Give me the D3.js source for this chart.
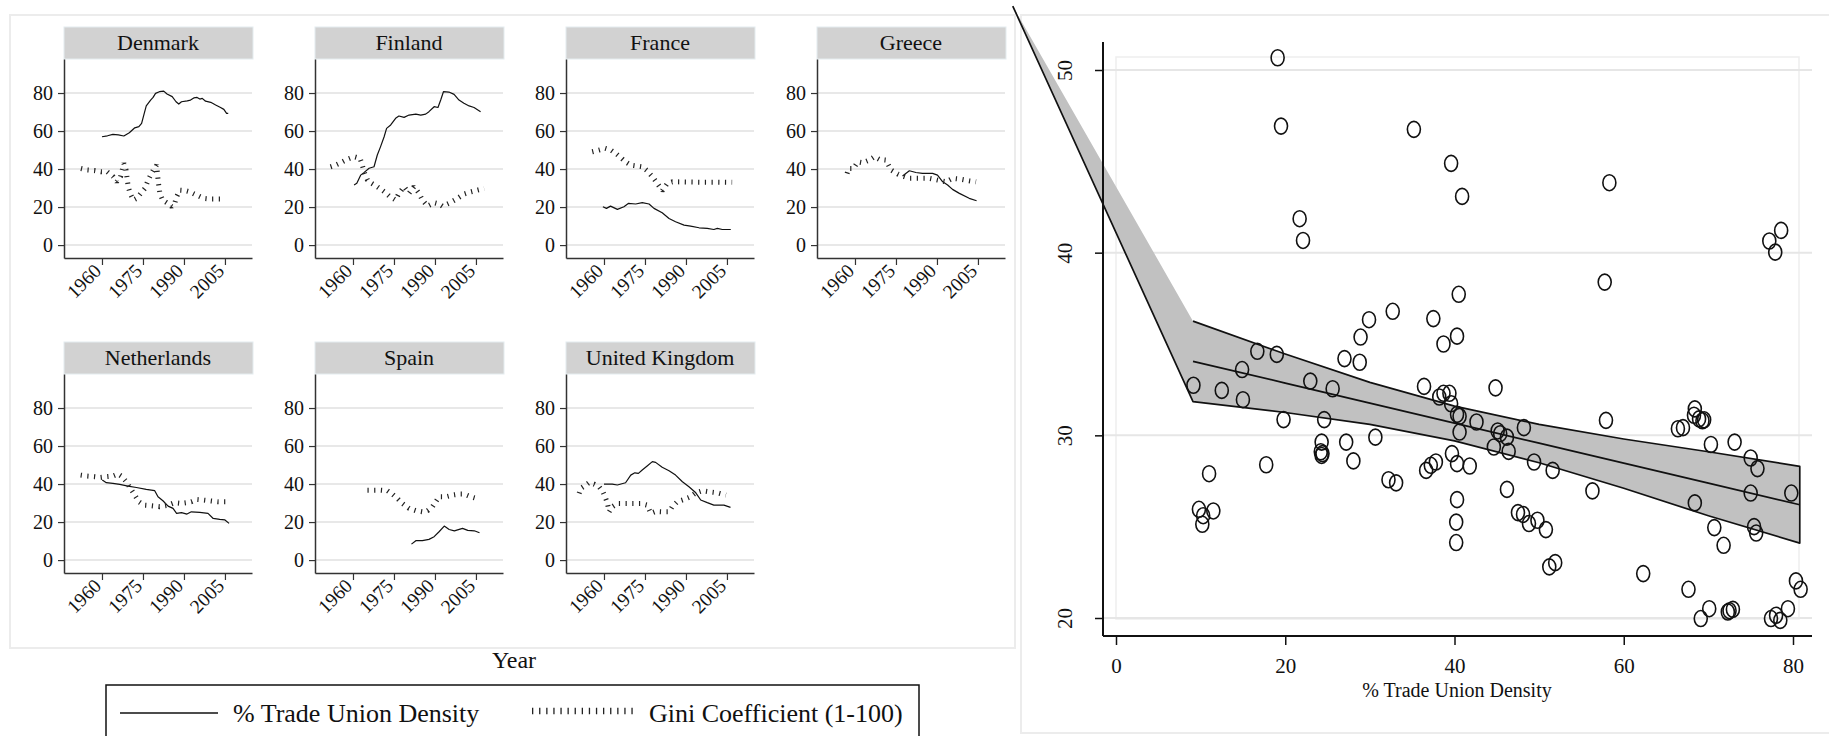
<!DOCTYPE html>
<html>
<head>
<meta charset="utf-8">
<script src="https://cdn.jsdelivr.net/npm/d3@7"></script>
<style>
  body { margin: 0; background: #fff; }
  text { font-family: "Liberation Serif", "Times New Roman", serif; fill: #111; font-weight: normal; }
</style>
</head>
<body>
<script>
const width = 1829;
const height = 736;

// ---- facet data: [year, value] ----
const countries = ["Denmark", "Finland", "France", "Greece", "Netherlands", "Spain", "United Kingdom"];
const yearTicks = [1960, 1975, 1990, 2005];
const facetTicks = [0, 20, 40, 60, 80];

const denmarkDensity = [[1960,57.0],[1962,57.5],[1964,58.2],[1966,58.0],[1968,57.4],[1970,59.1],[1972,61.7],[1973.5,62.3],[1974.5,64.0],[1975.3,68.4],[1976.2,73.2],[1977.8,76.3],[1978.7,77.7],[1979.6,79.8],[1981,80.7],[1982.6,81.0],[1983.8,79.5],[1985.7,78.1],[1987.1,75.4],[1988.1,74.2],[1989.1,75.4],[1991.2,75.9],[1992.4,76.3],[1993.6,77.4],[1994.8,77.7],[1995.8,76.8],[1996.7,77.2],[1997.9,75.7],[1999.8,75.1],[2001.6,73.7],[2003.4,72.4],[2004.6,71.4],[2005.6,69.3],[2006.2,69.3]];
const denmarkGini = [[1952.3,40.3],[1954.6,39.5],[1957.2,39.2],[1959.6,38.6],[1961.9,38.6],[1964.1,36.0],[1965.4,33.3],[1966.8,36.0],[1968.0,43.0],[1968.8,39.5],[1969.6,30.7],[1970.3,27.2],[1971.5,23.7],[1972.7,24.6],[1974.2,27.2],[1975.7,29.8],[1976.9,34.2],[1977.8,36.8],[1978.8,39.5],[1980.0,42.1],[1980.6,33.3],[1981.2,27.2],[1982.2,23.7],[1983.7,22.3],[1985.5,20.2],[1986.7,22.3],[1987.3,25.4],[1988.5,28.9],[1990.4,28.7],[1992.2,28.0],[1994.6,26.3],[1997.1,24.6],[1999.5,24.2],[2002.0,24.2],[2005.0,24.2]];

const finlandDensity = [[1960.4,31.6],[1961.4,32.5],[1962.8,36.8],[1964.0,38.1],[1965.9,40.4],[1967.7,41.2],[1968.9,47.4],[1970.1,51.8],[1971.4,57.0],[1972.3,61.4],[1973.8,63.2],[1975.6,66.7],[1976.8,67.9],[1978.7,67.2],[1980.5,68.4],[1983.0,68.9],[1984.8,68.4],[1986.6,68.9],[1987.8,70.2],[1989.7,72.8],[1991.1,72.4],[1992.1,76.3],[1993.1,80.7],[1995.1,80.5],[1997.0,79.3],[1998.8,76.3],[2000.6,74.6],[2002.5,73.2],[2004.3,72.4],[2006.7,70.2]];
const finlandGini = [[1951.8,41.2],[1953.7,42.1],[1955.5,43.3],[1957.9,45.1],[1960.4,46.5],[1962.6,45.6],[1963.4,42.1],[1964.3,37.7],[1965.3,34.2],[1966.5,32.8],[1968.9,30.7],[1971.4,28.1],[1973.2,25.8],[1975.6,23.7],[1976.8,27.2],[1978.7,30.7],[1980.5,27.2],[1982.3,30.7],[1984.2,27.2],[1985.4,23.7],[1987.3,20.5],[1989.7,22.3],[1991.5,21.6],[1992.7,20.5],[1995.1,22.0],[1997.6,24.0],[2000.6,26.8],[2003.1,28.0],[2005.5,28.9],[2008.0,29.8]];

const franceDensity = [[1959.6,20.2],[1960.9,19.3],[1962.4,20.5],[1964.9,18.8],[1967.3,20.2],[1968.9,21.9],[1971.6,21.6],[1974.0,22.3],[1976.5,21.6],[1978.3,19.3],[1981.3,17.0],[1983.8,14.0],[1986.2,12.3],[1989.3,10.5],[1991.7,10.0],[1994.8,9.1],[1997.8,8.8],[2000.2,8.2],[2001.5,8.8],[2003.3,8.2],[2006.4,8.2]];
const franceGini = [[1955.7,49.1],[1958.2,50.0],[1960.4,50.9],[1962.5,50.0],[1964.3,48.2],[1966.1,46.1],[1967.9,43.8],[1969.8,42.1],[1972.2,41.6],[1974.0,41.2],[1975.8,39.1],[1977.7,36.0],[1979.5,32.5],[1981.3,28.6],[1983.2,32.5],[1985.0,33.3],[1990,33.2],[1995,33.1],[2000,33.1],[2006.9,33.0]];

const greeceDensity = [[1977.4,36.3],[1979.9,39.1],[1982.3,38.2],[1984.7,37.7],[1988.4,37.7],[1990.2,36.8],[1992.1,33.3],[1993.9,31.6],[1995.7,29.3],[1998.2,27.2],[2001.8,24.6],[2004.5,23.3]];
const greeceGini = [[1957.1,37.7],[1957.7,40.3],[1959.4,40.3],[1961.0,43.8],[1962.8,43.3],[1965.2,44.7],[1967.1,46.5],[1968.9,45.1],[1971.3,44.7],[1973.2,39.5],[1975.6,37.4],[1977.4,36.3],[1979.9,35.1],[1983.5,35.1],[1987.2,35.1],[1990.2,34.2],[1993.3,33.3],[1995.7,35.1],[1998.8,34.6],[2001.8,33.8],[2004.3,33.3]];

const netherlandsDensity = [[1960.1,42.1],[1961.6,40.7],[1964.0,40.4],[1966.5,39.8],[1969.5,38.9],[1972.6,38.2],[1976.2,37.2],[1979.3,36.5],[1980.5,33.3],[1982.3,31.2],[1984.2,28.4],[1986.0,27.2],[1987.3,24.6],[1989.1,25.0],[1991.1,24.2],[1992.7,25.4],[1995.8,25.1],[1998.8,24.6],[2000.7,21.9],[2003.1,21.4],[2005.0,21.1],[2006.5,19.3]];
const netherlandsGini = [[1952.2,44.7],[1954.6,44.2],[1957.2,43.9],[1959.5,43.5],[1961.8,43.9],[1964.0,44.2],[1965.9,45.3],[1967.1,44.2],[1968.9,41.2],[1970.4,37.7],[1972.0,34.2],[1973.5,30.7],[1975.3,28.9],[1978.1,28.6],[1981.1,28.1],[1984.2,28.9],[1986.6,30.2],[1989.0,29.8],[1990.9,30.2],[1992.7,30.7],[1994.6,31.9],[1997.0,31.6],[1999.4,31.2],[2002.5,30.7],[2005.5,30.7]];

const spainDensity = [[1981.4,8.4],[1983.0,10.2],[1985.4,10.2],[1987.8,10.9],[1989.7,12.3],[1991.5,14.9],[1993.4,17.9],[1995.2,16.1],[1997.1,15.4],[2000.1,16.7],[2002.0,15.6],[2004.4,15.4],[2006.3,14.4]];
const spainGini = [[1965.3,36.8],[1967.7,36.8],[1970.1,36.8],[1972.6,36.5],[1974.4,34.7],[1976.2,32.5],[1978.1,29.8],[1980.5,27.2],[1983.0,26.0],[1985.4,25.4],[1987.3,26.0],[1989.1,28.1],[1990.3,30.7],[1991.5,33.3],[1994.0,33.3],[1996.4,34.2],[1998.8,34.7],[2000.7,34.7],[2003.1,33.3],[2005.0,32.5]];

const ukDensity = [[1960.0,40.0],[1963.0,40.0],[1964.9,39.5],[1967.9,40.7],[1969.8,44.7],[1971.3,45.9],[1972.6,45.6],[1974.0,47.4],[1975.8,49.5],[1977.7,51.8],[1978.9,51.4],[1981.3,48.8],[1983.8,47.0],[1986.2,44.7],[1988.7,41.2],[1991.1,38.6],[1993.6,35.4],[1995.4,31.6],[1997.8,30.2],[2000.2,28.9],[2003.9,28.9],[2006.3,27.7]];
const ukGini = [[1950.9,35.1],[1951.5,37.7],[1953.4,39.5],[1954.5,40.7],[1956.3,40.0],[1958.2,38.6],[1959.6,35.9],[1960.4,33.3],[1961.2,30.2],[1961.9,25.4],[1963.1,28.1],[1964.9,29.8],[1967.3,29.8],[1970.4,29.8],[1973.4,29.8],[1975.8,28.9],[1977.1,24.6],[1978.9,25.6],[1981.3,25.4],[1983.8,25.4],[1985.0,28.1],[1986.8,30.7],[1989.3,31.9],[1991.7,33.3],[1993.6,35.4],[1996.0,36.5],[1998.5,35.9],[2001.5,35.4],[2004.6,34.2]];

const densitySeries = [denmarkDensity, finlandDensity, franceDensity, greeceDensity, netherlandsDensity, spainDensity, ukDensity];
const giniSeries = [denmarkGini, finlandGini, franceGini, greeceGini, netherlandsGini, spainGini, ukGini];

// ---- scatter data: % trade union density vs Gini ----
const unionDensity = [19.1,19.5,35.2,21.7,22.1,32.7,29.9,28.9,16.7,19.0,27.0,28.8,14.9,39.6,40.9,58.3,78.6,77.2,77.9,57.75,40.5,37.5,40.3,38.7,22.96,25.6,9.15,12.5,15.0,19.8,24.6,24.3,24.2,24.4,24.3,27.2,30.65,28.05,17.75,11.0,9.8,10.3,11.5,10.2,32.2,33.1,36.4,38.2,38.7,39.4,39.6,40.3,40.6,42.6,40.6,44.85,45.4,45.1,46.2,44.65,46.4,48.2,49.4,51.6,39.7,40.3,41.8,36.65,37.2,37.8,46.2,40.3,40.2,40.2,47.5,48.1,48.8,49.8,50.8,51.2,51.9,56.3,57.9,68.4,68.3,68.9,69.3,69.5,66.4,67.0,70.3,73.1,75.0,75.8,75.0,79.8,68.4,70.7,71.8,75.4,75.65,62.3,67.65,70.1,69.1,72.5,72.9,72.3,80.35,80.9,79.4,77.4,78.0,78.5];
const giniCoef = [50.67,46.93,46.75,41.86,40.67,36.79,36.33,35.38,34.6,34.43,34.2,34.0,33.6,44.89,43.08,43.83,41.22,40.64,40.03,38.39,37.72,36.39,35.43,35.0,32.97,32.55,32.74,32.46,31.95,30.86,30.86,29.63,29.1,29.0,28.9,29.63,29.9,28.6,28.39,27.9,25.95,25.6,25.86,25.13,27.57,27.4,32.68,32.1,32.3,32.3,31.73,31.15,31.04,30.73,30.18,32.6,30.09,30.24,29.9,29.36,29.12,30.42,28.54,28.08,29.0,28.45,28.32,28.08,28.36,28.54,27.04,26.48,25.25,24.13,25.77,25.67,25.17,25.35,24.84,22.8,23.03,26.96,30.82,31.45,31.1,30.9,30.8,30.85,30.36,30.42,29.5,29.63,28.76,28.18,26.84,26.84,26.3,24.95,23.98,25.0,24.65,22.43,21.57,20.51,19.97,20.4,20.47,20.33,22.03,21.57,20.51,19.97,20.15,19.87];

// linear fit with confidence band
const fitX = [9.1, 20, 30, 40, 50, 60, 70, 80.8];
const fitY = [34.05, 32.86, 31.76, 30.67, 29.57, 28.48, 27.38, 26.2];
const ciUpper = [36.25, 34.45, 32.9, 31.6, 30.6, 29.8, 29.1, 28.3];
const ciLower = [31.85, 31.25, 30.6, 29.7, 28.5, 27.1, 25.6, 24.1];
const ciStray = [-12.2, 53.5];   // odd extra vertex of the shaded polygon

const scatterXTicks = [0, 20, 40, 60, 80];
const scatterYTicks = [20, 30, 40, 50];

const svg = d3.select("body").append("svg")
    .attr("width", width)
    .attr("height", height);

// ---------- left panel : small multiples ----------
svg.append("rect")
    .attr("x", 10).attr("y", 15)
    .attr("width", 1005).attr("height", 633)
    .attr("fill", "none")
    .attr("stroke", "#ececec")
    .attr("stroke-width", 2);

const facetW = 188, facetH = 199;
const fx = d3.scaleLinear().domain([1946.1, 2014.9]).range([0, facetW]);
const fy = d3.scaleLinear().domain([-6.8, 97.9]).range([facetH, 0]);

const line = d3.line()
    .x((d) => fx(d[0]))
    .y((d) => fy(d[1]));

countries.forEach((name, i) => {
    const col = i % 4;
    const row = Math.floor(i / 4);
    const g = svg.append("g")
        .attr("transform", `translate(${64 + col * 251},${59 + row * 315})`);

    g.append("rect")
        .attr("x", 0).attr("y", -32)
        .attr("width", facetW + 1).attr("height", 32)
        .attr("fill", "#d2d2d2")
        .attr("stroke", "#e4ecef");
    g.append("text")
        .attr("x", facetW / 2).attr("y", -9)
        .attr("text-anchor", "middle")
        .attr("font-size", 22)
        .attr("font-weight", 400)
        .attr("fill", "#1a1a1a")
        .text(name);

    g.selectAll(".grid")
        .data(facetTicks)
        .enter().append("line")
        .attr("class", "grid")
        .attr("x1", 0).attr("x2", facetW)
        .attr("y1", (d) => fy(d)).attr("y2", (d) => fy(d))
        .attr("stroke", "#e8e8e8")
        .attr("stroke-width", 2);

    const ya = g.append("g")
        .call(d3.axisLeft(fy).tickValues(facetTicks).tickSize(6).tickSizeOuter(0).tickPadding(5));
    ya.selectAll("text").attr("font-size", 20).attr("font-family", "Liberation Serif").attr("fill", "#111");

    const xa = g.append("g")
        .attr("transform", `translate(0,${facetH})`)
        .call(d3.axisBottom(fx).tickValues(yearTicks).tickFormat(d3.format("d")).tickSize(7).tickSizeOuter(0));
    xa.selectAll("text")
        .attr("font-size", 19.5)
        .attr("font-family", "Liberation Serif")
        .attr("fill", "#111")
        .attr("y", 0).attr("dy", 0)
        .attr("text-anchor", "end")
        .attr("transform", "translate(0,14) rotate(-45)");

    [ya, xa].forEach((a) => {
        a.select(".domain").attr("stroke", "#333").attr("stroke-width", 1.5);
        a.selectAll(".tick line").attr("stroke", "#333").attr("stroke-width", 1.2);
    });

    g.append("path")
        .attr("d", line(densitySeries[i]))
        .attr("fill", "none")
        .attr("stroke", "#111")
        .attr("stroke-width", 1.2)
        .attr("stroke-linejoin", "round");

    g.append("path")
        .attr("d", line(giniSeries[i]))
        .attr("fill", "none")
        .attr("stroke", "#222")
        .attr("stroke-width", 5)
        .attr("stroke-linejoin", "bevel")
        .attr("stroke-dasharray", "1.2 5.5");
});

svg.append("text")
    .attr("x", 514).attr("y", 668)
    .attr("text-anchor", "middle")
    .attr("font-size", 24)
    .text("Year");

// legend
svg.append("rect")
    .attr("x", 106).attr("y", 685)
    .attr("width", 813).attr("height", 80)
    .attr("fill", "#fff")
    .attr("stroke", "#111")
    .attr("stroke-width", 1.5);
svg.append("line")
    .attr("x1", 120).attr("x2", 218).attr("y1", 713).attr("y2", 713)
    .attr("stroke", "#111").attr("stroke-width", 1.5);
svg.append("text")
    .attr("x", 233).attr("y", 722)
    .attr("font-size", 26)
    .text("% Trade Union Density");
svg.append("line")
    .attr("x1", 532).attr("x2", 634).attr("y1", 711).attr("y2", 711)
    .attr("stroke", "#222").attr("stroke-width", 6.5)
    .attr("stroke-dasharray", "1.3 5.8");
svg.append("text")
    .attr("x", 649).attr("y", 722)
    .attr("font-size", 26)
    .text("Gini Coefficient (1-100)");

// ---------- right panel : scatter with fit ----------
svg.append("rect")
    .attr("x", 1021).attr("y", 15)
    .attr("width", 812).attr("height", 718)
    .attr("fill", "none")
    .attr("stroke", "#ececec")
    .attr("stroke-width", 2);

const sx = d3.scaleLinear().domain([0, 80]).range([1116, 1793]);
const sy = d3.scaleLinear().domain([20, 50]).range([618, 70]);
const axisX0 = 1103, axisX1 = 1812, axisY0 = 42, axisY1 = 636;

svg.append("rect")
    .attr("x", 1116).attr("y", 57)
    .attr("width", 683).attr("height", 562)
    .attr("fill", "none")
    .attr("stroke", "#eeeeee")
    .attr("stroke-width", 1.5);

svg.selectAll(".sgrid")
    .data(scatterYTicks)
    .enter().append("line")
    .attr("class", "sgrid")
    .attr("x1", axisX0).attr("x2", axisX1)
    .attr("y1", (d) => sy(d)).attr("y2", (d) => sy(d))
    .attr("stroke", "#e6e6e6")
    .attr("stroke-width", 2);

// shaded confidence band, including its stray vertex
const bandPts = fitX.map((x, i) => [x, ciUpper[i]])
    .concat(fitX.map((x, i) => [x, ciLower[i]]).reverse())
    .concat([ciStray]);
const sline = d3.line().x((d) => sx(d[0])).y((d) => sy(d[1]));

svg.append("path")
    .attr("d", sline(bandPts) + "Z")
    .attr("fill", "#c1c1c1")
    .attr("stroke", "none");
svg.append("path")
    .attr("d", sline(bandPts))
    .attr("fill", "none")
    .attr("stroke", "#111")
    .attr("stroke-width", 1.7)
    .attr("stroke-linejoin", "round");
svg.append("path")
    .attr("d", sline(fitX.map((x, i) => [x, fitY[i]])))
    .attr("fill", "none")
    .attr("stroke", "#111")
    .attr("stroke-width", 1.7);

svg.selectAll(".pt")
    .data(unionDensity.map((x, i) => [x, giniCoef[i]]))
    .enter().append("ellipse")
    .attr("class", "pt")
    .attr("cx", (d) => sx(d[0]))
    .attr("cy", (d) => sy(d[1]))
    .attr("rx", 6.5).attr("ry", 8)
    .attr("fill", "none")
    .attr("stroke", "#111")
    .attr("stroke-width", 1.6);

// axes
const sya = svg.append("g")
    .attr("transform", `translate(${axisX0},0)`)
    .call(d3.axisLeft(sy).tickValues(scatterYTicks).tickSize(8).tickSizeOuter(0));
sya.select(".domain").remove();
sya.selectAll("text")
    .attr("x", 0).attr("dy", 0)
    .attr("font-size", 21)
    .attr("font-family", "Liberation Serif")
    .attr("fill", "#222")
    .attr("text-anchor", "middle")
    .attr("transform", "translate(-31,0) rotate(-90)");

const sxa = svg.append("g")
    .attr("transform", `translate(0,${axisY1})`)
    .call(d3.axisBottom(sx).tickValues(scatterXTicks).tickSize(9).tickPadding(13).tickSizeOuter(0));
sxa.select(".domain").remove();
sxa.selectAll("text")
    .attr("font-size", 21)
    .attr("font-family", "Liberation Serif")
    .attr("fill", "#222");

[sya, sxa].forEach((a) => a.selectAll(".tick line").attr("stroke", "#111").attr("stroke-width", 1.5));

svg.append("line")
    .attr("x1", axisX0).attr("x2", axisX0).attr("y1", axisY0).attr("y2", axisY1)
    .attr("stroke", "#111").attr("stroke-width", 2);
svg.append("line")
    .attr("x1", axisX0).attr("x2", axisX1).attr("y1", axisY1).attr("y2", axisY1)
    .attr("stroke", "#111").attr("stroke-width", 2);

svg.append("text")
    .attr("x", 1457).attr("y", 697)
    .attr("text-anchor", "middle")
    .attr("font-size", 20)
    .attr("fill", "#222")
    .text("% Trade Union Density");
</script>
</body>
</html>
